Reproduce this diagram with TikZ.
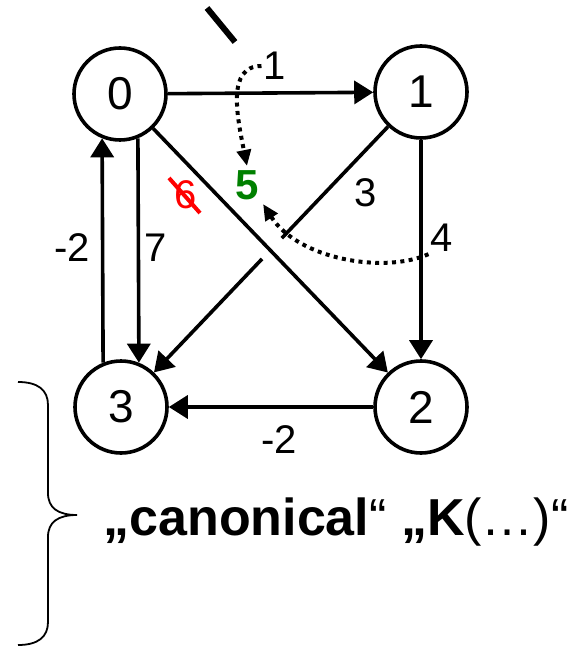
\documentclass[tikz,border=0pt]{standalone}
\usepackage{fontspec}
\setmainfont{Liberation Sans}
\usetikzlibrary{arrows.meta,calc}
\definecolor{okgreen}{RGB}{0,128,0}

\begin{document}
\begin{tikzpicture}[x=0.5pt, y=-0.5pt,
    vertex/.style={draw, circle, line width=1.8pt, minimum size=46pt, inner sep=0pt, font=\fontsize{23}{23}\selectfont},
    edge/.style={line width=1.8pt, -{Triangle[length=9.5pt,width=11.5pt]}},
    weight/.style={inner sep=1pt, font=\fontsize{20}{20}\selectfont},
    hint/.style={line width=2pt, dash pattern=on 2pt off 2.2pt, -{Triangle[length=8pt,width=7pt]}}]
    \useasboundingbox (0,0) rectangle (579,646);

    % Vertices
    \node[vertex] (n0) at (120,94) {0};
    \node[vertex] (n1) at (421,92) {1};
    \node[vertex] (n2) at (421,407) {2};
    \node[vertex] (n3) at (121,407) {3};

    % Edges
    \draw[edge] (n0) -- (n1);
    \draw[edge] (n0.-68) -- (n3.68);
    \draw[edge] (n3.112) -- (n0.-112);
    \draw[edge] (n1) -- (n2);
    \draw[edge] (n2) -- (n3);
    \draw[edge] (n0) -- (n2);
    % 1 -> 3 is broken where it crosses 0 -> 2
    \coordinate (gapa) at ($(n1)!0.464!(n3)$);
    \coordinate (gapb) at ($(n1)!0.53!(n3)$);
    \draw[line width=1.8pt] (n1) -- (gapa);
    \draw[edge] (gapb) -- (n3);

    % Weights
    \node[weight] (w01) at (275,66) {1};
    \node[weight] (w30) at (72,248) {-2};
    \node[weight] (w03) at (156,248) {7};
    \node[weight] (w13) at (366,193) {3};
    \node[weight] (w12) at (442,238) {4};
    \node[weight] (w23) at (279,440) {-2};

    % Updated weight of 0 -> 2
    \node[weight, text=red] (six) at (186,195) {6};
    \draw[red, line width=2pt] ($(six.center)+(-17,-17)$) -- ($(six.center)+(14,18)$);
    \node[weight, inner sep=2pt, text=okgreen, font=\fontsize{21}{21}\selectfont\bfseries] (five) at (247,185) {5};
    \draw[hint] (w01.west) .. controls +(-35,0) and +(-10,-50) .. (five.north);
    \draw[hint] (w12.south west) .. controls +(-45,20) and +(35,55) .. (five.south east);

    % Stroke at the top
    \draw[line width=3pt] (207,8) -- (235,42);

    % Brace and caption
    \draw[line width=0.9pt] (18,382) .. controls (38,382) and (48,390) .. (48,405) -- (48,493)
        .. controls (48,508) and (58,515) .. (77,515)
        .. controls (58,515) and (48,522) .. (48,537) -- (48,622)
        .. controls (48,637) and (38,645) .. (18,645);
    \node[font=\fontsize{26}{26}\selectfont] (caption) at (336,522) {\textbf{„canonical}“ \textbf{„K}(…)“};
\end{tikzpicture}
\end{document}
